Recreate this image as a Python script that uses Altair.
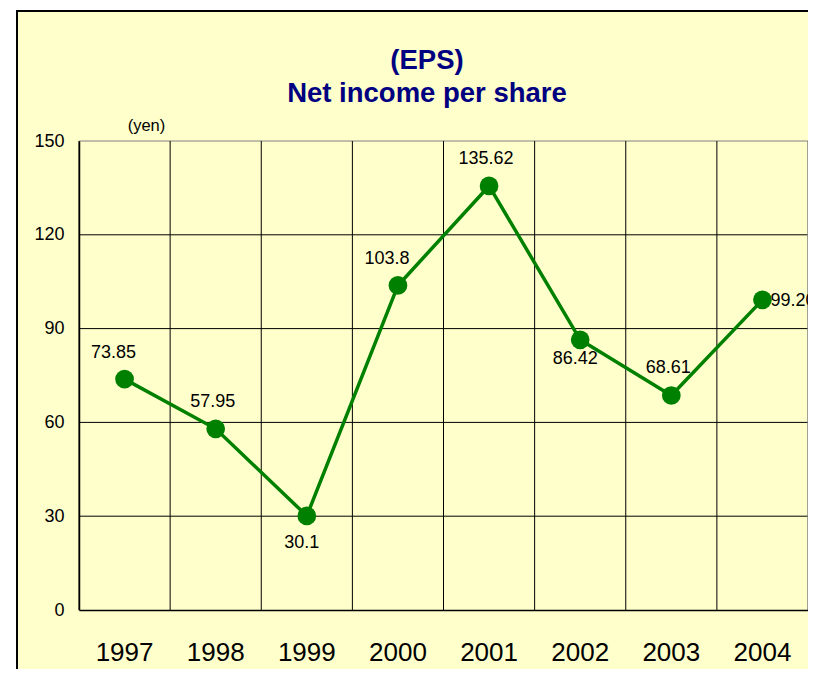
import altair as alt
import pandas as pd

years = ["1997", "1998", "1999", "2000", "2001", "2002", "2003", "2004"]
eps = [73.85, 57.95, 30.1, 103.8, 135.62, 86.42, 68.61, 99.20]
labels = ["73.85", "57.95", "30.1", "103.8", "135.62", "86.42", "68.61", "99.20"]
placement = ["above-left", "above", "below", "above-left", "above", "below-near", "above", "right"]
y_ticks = [0, 30, 60, 90, 120, 150]
title_lines = ["(EPS)", "Net income per share"]

df = pd.DataFrame({"year": years, "eps": eps, "label": labels, "place": placement})
grid_df = pd.DataFrame({"v": y_ticks[1:]})

FONT = "Liberation Sans"
GREEN = "#008000"

xscale = alt.Scale(domain=years, paddingInner=0, paddingOuter=0)
yscale = alt.Scale(domain=[0, 150], nice=False)

x_axis = alt.Axis(labelFontSize=26, labelFont=FONT, labelColor="black",
                  labelAngle=0, labelPadding=29, ticks=False,
                  domainColor="black", domainWidth=1.5, grid=False, zindex=1)
y_axis = alt.Axis(values=y_ticks, labelFontSize=18, labelFont=FONT,
                  labelColor="black", labelPadding=15, ticks=False,
                  domainColor="black", domainWidth=1.5, grid=False, zindex=1,
                  title="(yen)", titleAngle=0, titleX=67, titleY=-16,
                  titleAlign="center", titleBaseline="middle",
                  titleFontSize=16.5, titleFontWeight="normal",
                  titleFont=FONT, titleColor="black")

X = alt.X("year:O", scale=xscale, axis=x_axis, title=None)
Y = alt.Y("eps:Q", scale=yscale, axis=y_axis)

base = alt.Chart(df)
one = base.transform_filter(alt.datum.year == years[0])
last = base.transform_filter(alt.datum.year == years[-1])

box = one.mark_rect(fill="#FFFFCC", stroke="black", strokeWidth=2).encode(
    x=alt.value(-62), x2=alt.value(760), y=alt.value(-130), y2=alt.value(560)
)

hgrid = alt.Chart(grid_df).mark_rule(strokeWidth=1).encode(
    y=alt.Y("v:Q", scale=yscale, axis=y_axis),
    color=alt.condition(alt.datum.v == y_ticks[-1], alt.value("#808080"), alt.value("black")),
)

vgrid = base.mark_rule(color="black", strokeWidth=1).encode(
    x=alt.X("year:O", scale=xscale, bandPosition=0, axis=x_axis, title=None),
)
vright = last.mark_rule(color="#808080", strokeWidth=1.5).encode(
    x=alt.X("year:O", scale=xscale, bandPosition=1, axis=x_axis, title=None),
)

line = base.mark_line(color=GREEN, strokeWidth=3.5).encode(x=X, y=Y)

pts = base.mark_point(filled=True, color=GREEN, opacity=1, size=350).encode(x=X, y=Y)

def lab(place, **kw):
    return base.transform_filter(alt.datum.place == place).mark_text(
        font=FONT, fontSize=18, color="black", **kw
    ).encode(x=X, y=Y, text="label:N")

texts = [
    lab("above-left", dx=-11, dy=-26),
    lab("above", dx=-3, dy=-27),
    lab("below", dx=-5, dy=27),
    lab("below-near", dx=-5, dy=19),
    lab("right", align="left", dx=8, dy=1),
]

title = one.mark_text(
    text=title_lines, font=FONT, fontSize=27.5, fontWeight="bold",
    color="#000080", align="center", baseline="middle", lineHeight=33,
).encode(x=alt.value(348), y=alt.value(-80))

chart = alt.layer(box, hgrid, vgrid, vright, line, pts, *texts, title).properties(
    width=729,
    height=469,
    padding={"left": 71, "top": 133, "right": 0, "bottom": 59},
    autosize=alt.AutoSizeParams(type="none"),
    background="white",
).configure_view(
    fill="#FFFFCC", stroke=None
)

chart.save("out.html", embed_options={"renderer": "svg", "actions": False})
